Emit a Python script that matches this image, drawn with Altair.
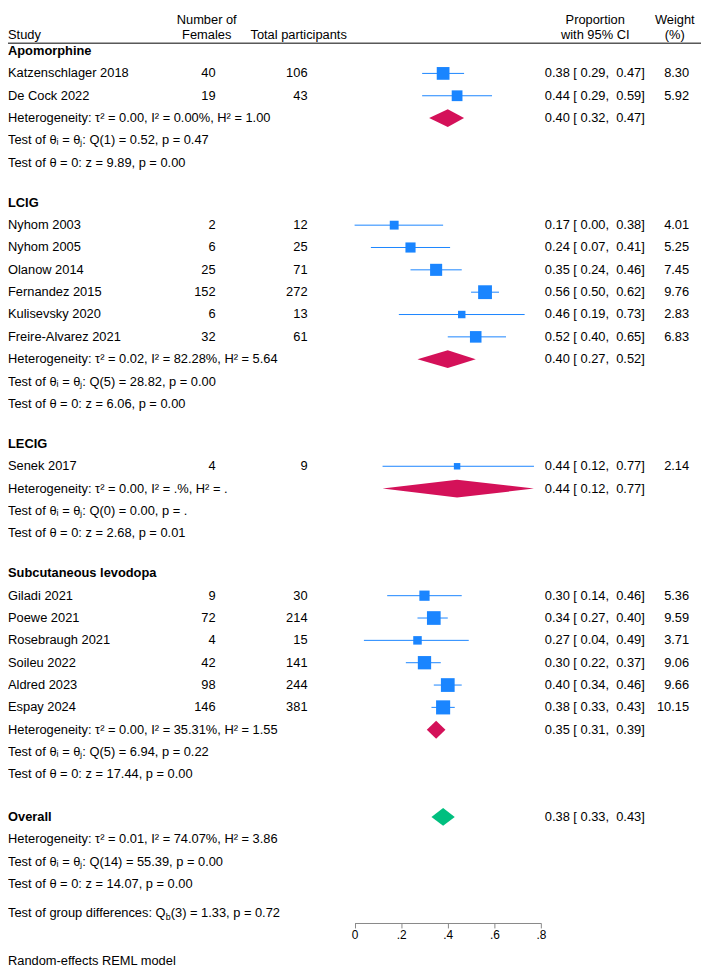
import altair as alt
import pandas as pd

# ---------------- data ----------------
groups = ["Apomorphine", "LCIG", "LECIG", "Subcutaneous levodopa"]
studies = [
    ["Katzenschlager 2018", "De Cock 2022"],
    ["Nyhom 2003", "Nyhom 2005", "Olanow 2014", "Fernandez 2015", "Kulisevsky 2020", "Freire-Alvarez 2021"],
    ["Senek 2017"],
    ["Giladi 2021", "Poewe 2021", "Rosebraugh 2021", "Soileu 2022", "Aldred 2023", "Espay 2024"],
]
females = [[40, 19], [2, 6, 25, 152, 6, 32], [4], [9, 72, 4, 42, 98, 146]]
totals = [[106, 43], [12, 25, 71, 272, 13, 61], [9], [30, 214, 15, 141, 244, 381]]
est = [[0.38, 0.44], [0.17, 0.24, 0.35, 0.56, 0.46, 0.52], [0.44], [0.30, 0.34, 0.27, 0.30, 0.40, 0.38]]
lo = [[0.29, 0.29], [0.00, 0.07, 0.24, 0.50, 0.19, 0.40], [0.12], [0.14, 0.27, 0.04, 0.22, 0.34, 0.33]]
hi = [[0.47, 0.59], [0.38, 0.41, 0.46, 0.62, 0.73, 0.65], [0.77], [0.46, 0.40, 0.49, 0.37, 0.46, 0.43]]
weights = [[8.30, 5.92], [4.01, 5.25, 7.45, 9.76, 2.83, 6.83], [2.14], [5.36, 9.59, 3.71, 9.06, 9.66, 10.15]]

grp_est = [0.40, 0.40, 0.44, 0.35]
grp_lo = [0.32, 0.27, 0.12, 0.31]
grp_hi = [0.47, 0.52, 0.77, 0.39]
grp_het = [
    "Heterogeneity: τ² = 0.00, I² = 0.00%, H² = 1.00",
    "Heterogeneity: τ² = 0.02, I² = 82.28%, H² = 5.64",
    "Heterogeneity: τ² = 0.00, I² = .%, H² = .",
    "Heterogeneity: τ² = 0.00, I² = 35.31%, H² = 1.55",
]
grp_q = [
    "Test of θᵢ = θⱼ: Q(1) = 0.52, p = 0.47",
    "Test of θᵢ = θⱼ: Q(5) = 28.82, p = 0.00",
    "Test of θᵢ = θⱼ: Q(0) = 0.00, p = .",
    "Test of θᵢ = θⱼ: Q(5) = 6.94, p = 0.22",
]
grp_z = [
    "Test of θ = 0: z = 9.89, p = 0.00",
    "Test of θ = 0: z = 6.06, p = 0.00",
    "Test of θ = 0: z = 2.68, p = 0.01",
    "Test of θ = 0: z = 17.44, p = 0.00",
]
overall_est, overall_lo, overall_hi = 0.38, 0.33, 0.43
overall_lines = [
    "Heterogeneity: τ² = 0.01, I² = 74.07%, H² = 3.86",
    "Test of θᵢ = θⱼ: Q(14) = 55.39, p = 0.00",
    "Test of θ = 0: z = 14.07, p = 0.00",
]
diff_parts = ["Test of group differences: Q", "b", "(3) = 1.33, p = 0.72"]
footnote = "Random-effects REML model"
x_ticks = [0, 0.2, 0.4, 0.6, 0.8]

# ---------------- style / layout ----------------
FONT = "Liberation Sans"
FS = 13
BLUE = "#1a85ff"
MAG = "#d41159"
GREEN = "#00bf7f"
W, H = 701, 920
PITCH, GROUP_GAP, OVERALL_GAP, DIFF_GAP, Y0 = 22.6, 40.5, 43.0, 29.0, 46.0
HALF_DIAMOND = 9.0

# column x positions (pixels inside the chart)
X_STUDY, X_FEM, X_TOT = 0, 210, 303
X_FEM_H, X_TOT_H = 201, 294
X_CI, X_CI_H = 543, 594
X_WT, X_WT_H = 689, 674.5


def ci_text(e, l, h):
    return f"{e:.2f} [ {l:.2f},\u00a0\u00a0{h:.2f}]"


text_rows, sq_rows, dia_rows = [], [], []
y = Y0
for gi, g in enumerate(groups):
    if gi > 0:
        y += GROUP_GAP
    text_rows.append(dict(y=y, label=g, bold=True, fem="", tot="", ci="", wt=""))
    for si, s in enumerate(studies[gi]):
        y += PITCH
        text_rows.append(dict(y=y, label=s, bold=False, fem=str(females[gi][si]), tot=str(totals[gi][si]),
                              ci=ci_text(est[gi][si], lo[gi][si], hi[gi][si]), wt=f"{weights[gi][si]:.2f}"))
        sq_rows.append(dict(y=y, est=est[gi][si], lo=lo[gi][si], hi=hi[gi][si], w=weights[gi][si]))
    y += PITCH
    text_rows.append(dict(y=y, label=grp_het[gi], bold=False, fem="", tot="",
                          ci=ci_text(grp_est[gi], grp_lo[gi], grp_hi[gi]), wt=""))
    for xv, y1, y2 in [(grp_lo[gi], y, y), (grp_est[gi], y - HALF_DIAMOND, y + HALF_DIAMOND), (grp_hi[gi], y, y)]:
        dia_rows.append(dict(gid=f"g{gi}", kind="group", x=xv, y1=y1, y2=y2))
    for line in (grp_q[gi], grp_z[gi]):
        y += PITCH
        text_rows.append(dict(y=y, label=line, bold=False, fem="", tot="", ci="", wt=""))

y += OVERALL_GAP
text_rows.append(dict(y=y, label="Overall", bold=True, fem="", tot="",
                      ci=ci_text(overall_est, overall_lo, overall_hi), wt=""))
for xv, y1, y2 in [(overall_lo, y, y), (overall_est, y - HALF_DIAMOND, y + HALF_DIAMOND), (overall_hi, y, y)]:
    dia_rows.append(dict(gid="overall", kind="overall", x=xv, y1=y1, y2=y2))
for line in overall_lines:
    y += PITCH
    text_rows.append(dict(y=y, label=line, bold=False, fem="", tot="", ci="", wt=""))
y += DIFF_GAP
diff_y = y

tdf = pd.DataFrame(text_rows)
sdf = pd.DataFrame(sq_rows)
ddf = pd.DataFrame(dia_rows)

yscale = alt.Scale(domain=[8, 8 + H], reverse=True)
yenc = alt.Y("y:Q", scale=yscale, axis=None)
xscale = alt.Scale(domain=[0, 0.8], range=[350.6, 539.1], nice=False, zero=False)
xaxis = alt.Axis(values=x_ticks, title=None, grid=False,
                 labelExpr="datum.value == 0 ? '0' : replace(format(datum.value, '.1f'), '0.', '.')",
                 domainColor="#888888", tickColor="#888888", tickSize=5, domainWidth=1, tickWidth=1,
                 labelFont=FONT, labelFontSize=12, labelColor="#000000", labelPadding=2,
                 labelFlush=False, labelOverlap=False)


def txt(df, field, x, align="left", bold=False, size=FS, dy=0):
    return alt.Chart(df).mark_text(font=FONT, fontSize=size, align=align, baseline="middle",
                                   fontWeight="bold" if bold else "normal", color="#000000", dy=dy).encode(
        x=alt.value(x), y=yenc, text=f"{field}:N")


layers = []
# column headers
hdr = pd.DataFrame([
    dict(y=30, t="Study", x=X_STUDY, a="left"),
    dict(y=15, t="Number of", x=X_FEM_H, a="center"),
    dict(y=30, t="Females", x=X_FEM_H, a="center"),
    dict(y=30, t="Total participants", x=X_TOT_H, a="center"),
    dict(y=15, t="Proportion", x=X_CI_H, a="center"),
    dict(y=30, t="with 95% CI", x=X_CI_H, a="center"),
    dict(y=15, t="Weight", x=X_WT_H, a="center"),
    dict(y=30, t="(%)", x=X_WT_H, a="center"),
])
for _, r in hdr.iterrows():
    layers.append(txt(pd.DataFrame([dict(y=r.y, t=r.t)]), "t", r.x, align=r.a))

rule_df = pd.DataFrame([dict(y=38)])
layers.append(alt.Chart(rule_df).mark_rule(color="#000000", strokeWidth=1).encode(
    x=alt.value(0), x2=alt.value(W), y=yenc))

# row texts
layers.append(txt(tdf[~tdf.bold], "label", X_STUDY))
layers.append(txt(tdf[tdf.bold], "label", X_STUDY, bold=True))
layers.append(txt(tdf[tdf.fem != ""], "fem", X_FEM, align="right"))
layers.append(txt(tdf[tdf.tot != ""], "tot", X_TOT, align="right"))
layers.append(txt(tdf[tdf.ci != ""], "ci", X_CI))
layers.append(txt(tdf[tdf.wt != ""], "wt", X_WT, align="right"))

# group differences line with subscript
p1_w = 159.6
layers.append(txt(pd.DataFrame([dict(y=diff_y, t=diff_parts[0])]), "t", X_STUDY))
layers.append(txt(pd.DataFrame([dict(y=diff_y, t=diff_parts[1])]), "t", X_STUDY + p1_w, size=9, dy=4))
layers.append(txt(pd.DataFrame([dict(y=diff_y, t=diff_parts[2])]), "t", X_STUDY + p1_w + 5.0))

# footnote
layers.append(txt(pd.DataFrame([dict(y=966, t=footnote)]), "t", 0))

# forest: CI lines
layers.append(alt.Chart(sdf).mark_rule(color=BLUE, strokeWidth=1).encode(
    x=alt.X("lo:Q", scale=xscale, axis=xaxis), x2="hi:Q", y=yenc))
# squares
layers.append(alt.Chart(sdf).mark_square(color=BLUE, opacity=1, filled=True).encode(
    x=alt.X("est:Q", scale=xscale, axis=xaxis), y=yenc,
    size=alt.Size("w:Q", scale=alt.Scale(domain=[0, 10], range=[0, 200]), legend=None)))
# diamonds
layers.append(alt.Chart(ddf).mark_area(opacity=1, orient="vertical", strokeWidth=0).encode(
    x=alt.X("x:Q", scale=xscale, axis=xaxis),
    y=alt.Y("y1:Q", scale=yscale, axis=None, stack=None),
    y2="y2:Q",
    detail="gid:N",
    color=alt.Color("kind:N", scale=alt.Scale(domain=["group", "overall"], range=[MAG, GREEN]), legend=None)))

chart = alt.layer(*layers).properties(
    width=W, height=H,
    padding={"left": 0, "top": 0, "right": 0, "bottom": 44},
    autosize=alt.AutoSizeParams(type="none"),
).configure_view(stroke=None)

chart.save("out.html", embed_options={"renderer": "svg", "actions": False})
